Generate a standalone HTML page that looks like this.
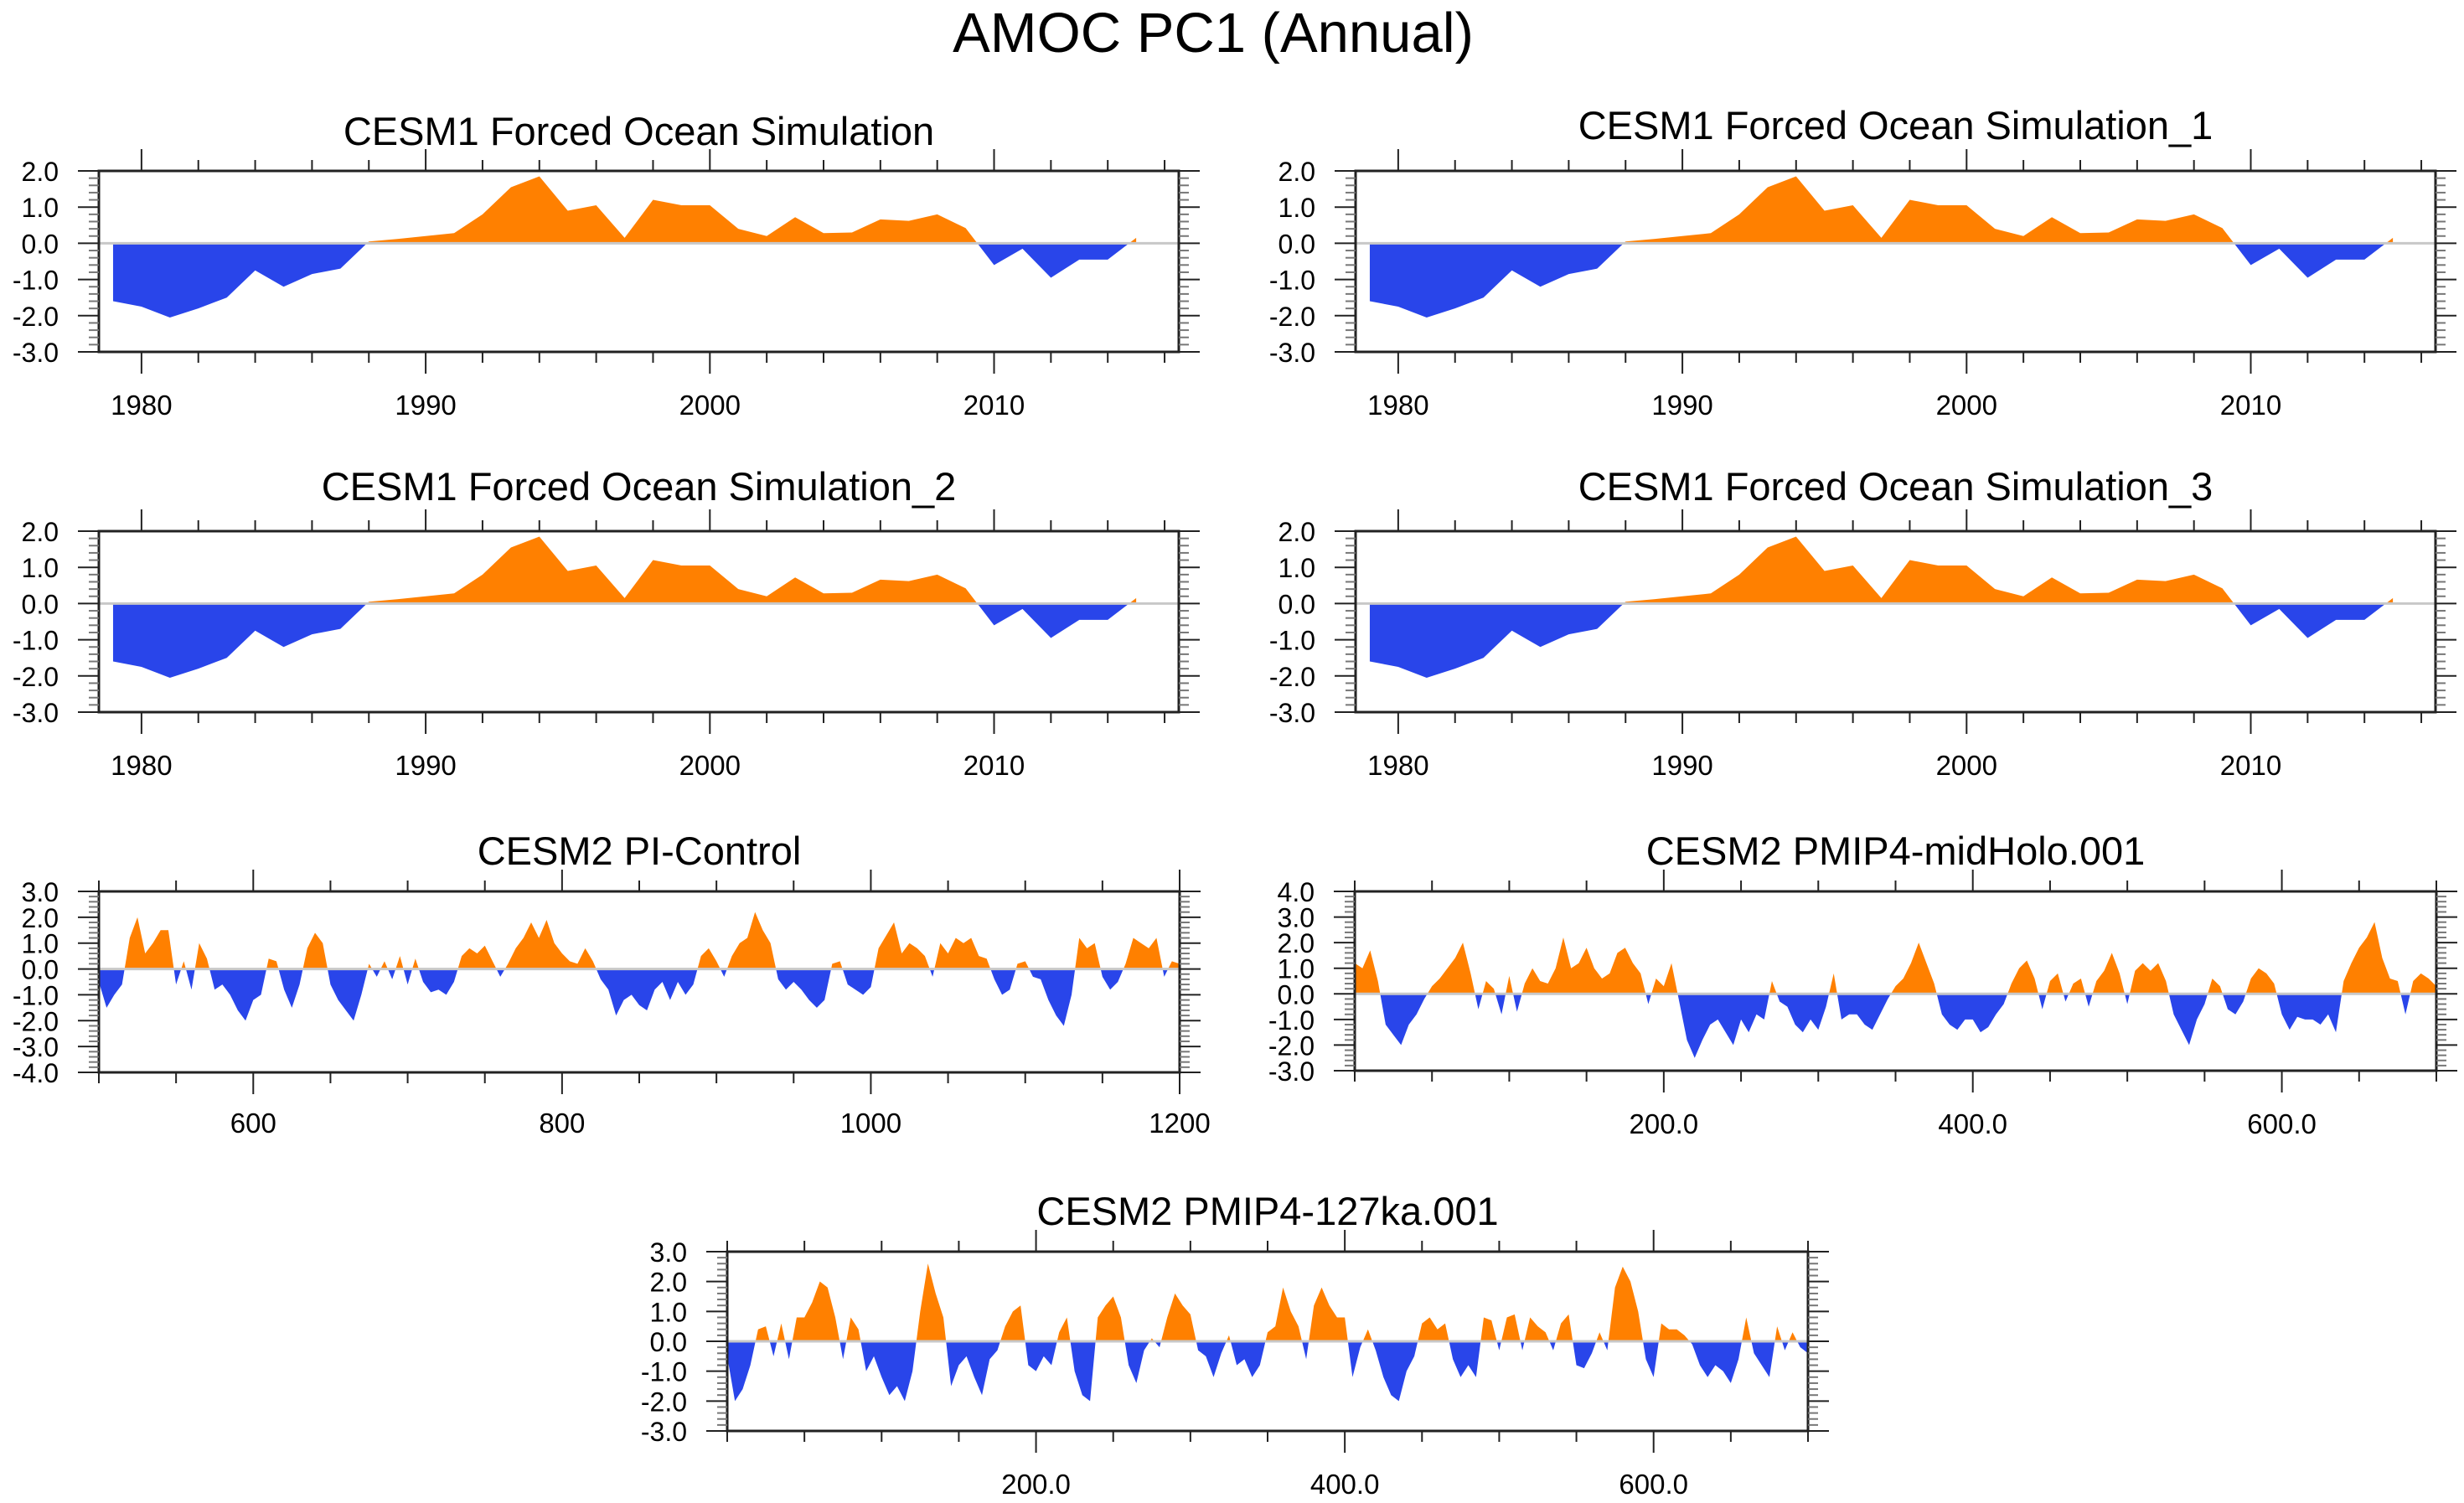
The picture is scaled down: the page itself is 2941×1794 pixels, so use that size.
<!DOCTYPE html>
<html><head><meta charset="utf-8"><style>
html,body{margin:0;padding:0;background:#fff;}
svg{display:block;}
text{font-family:"Liberation Sans",sans-serif;fill:#000;}
</style></head><body>
<svg id="chart" width="2941" height="1794" viewBox="0 0 2941 1794" xmlns="http://www.w3.org/2000/svg">
<rect x="0" y="0" width="2941" height="1794" fill="#fff"/>
<text x="1448" y="62" font-size="67" text-anchor="middle">AMOC PC1 (Annual)</text>
</svg>
<script>
// CESM1 forced ocean simulation (annual 1979-2015)
const cesm1Years = [1979,1980,1981,1982,1983,1984,1985,1986,1987,1988,1989,1990,1991,1992,1993,1994,1995,1996,1997,1998,1999,2000,2001,2002,2003,2004,2005,2006,2007,2008,2009,2010,2011,2012,2013,2014,2015];
const cesm1Values = [-1.6,-1.75,-2.05,-1.8,-1.5,-0.75,-1.2,-0.85,-0.7,0.05,0.12,0.2,0.28,0.8,1.55,1.85,0.9,1.05,0.15,1.2,1.05,1.05,0.4,0.2,0.72,0.28,0.3,0.66,0.62,0.8,0.42,-0.6,-0.15,-0.95,-0.45,-0.45,0.15];
// CESM2 PI-Control (5-yr samples, 500-1200)
const piStart = 500, piStep = 5;
const piValues = [-0.5,-1.5,-1.0,-0.6,1.2,2.0,0.6,1.0,1.5,1.5,-0.6,0.3,-0.8,1.0,0.4,-0.8,-0.6,-1.0,-1.6,-2.0,-1.2,-1.0,0.4,0.3,-0.8,-1.5,-0.6,0.8,1.4,1.0,-0.6,-1.2,-1.6,-2.0,-1.0,0.2,-0.3,0.3,-0.4,0.5,-0.6,0.4,-0.5,-0.9,-0.8,-1.0,-0.5,0.5,0.8,0.6,0.9,0.3,-0.3,0.2,0.8,1.2,1.8,1.2,1.9,1.0,0.6,0.3,0.2,0.8,0.3,-0.4,-0.8,-1.8,-1.2,-1.0,-1.4,-1.6,-0.8,-0.5,-1.2,-0.5,-1.0,-0.6,0.5,0.8,0.3,-0.3,0.5,1.0,1.2,2.2,1.5,1.0,-0.4,-0.8,-0.5,-0.8,-1.2,-1.5,-1.2,0.2,0.3,-0.6,-0.8,-1.0,-0.7,0.8,1.3,1.8,0.6,1.0,0.8,0.5,-0.3,1.0,0.6,1.2,1.0,1.2,0.5,0.4,-0.4,-1.0,-0.8,0.2,0.3,-0.3,-0.4,-1.2,-1.8,-2.2,-1.0,1.2,0.8,1.0,-0.3,-0.8,-0.5,0.2,1.2,1.0,0.8,1.2,-0.3,0.3,0.2];
// CESM2 PMIP4-midHolo.001 (5-yr samples, 0-700)
const mhStart = 0, mhStep = 5;
const mhValues = [1.2,1.0,1.7,0.5,-1.2,-1.6,-2.0,-1.2,-0.8,-0.2,0.3,0.6,1.0,1.4,2.0,0.8,-0.6,0.5,0.2,-0.8,0.7,-0.7,0.4,1.0,0.5,0.4,1.0,2.2,1.0,1.2,1.8,1.0,0.6,0.8,1.6,1.8,1.2,0.8,-0.4,0.6,0.3,1.2,-0.3,-1.8,-2.5,-1.8,-1.2,-1.0,-1.5,-2.0,-1.0,-1.5,-0.8,-1.0,0.5,-0.3,-0.5,-1.2,-1.5,-1.0,-1.4,-0.5,0.8,-1.0,-0.8,-0.8,-1.2,-1.4,-0.8,-0.2,0.3,0.6,1.2,2.0,1.2,0.4,-0.8,-1.2,-1.4,-1.0,-1.0,-1.5,-1.3,-0.8,-0.4,0.4,1.0,1.3,0.6,-0.6,0.5,0.8,-0.3,0.4,0.6,-0.5,0.5,0.9,1.6,0.8,-0.4,0.9,1.2,0.9,1.2,0.5,-0.8,-1.4,-2.0,-1.0,-0.4,0.6,0.3,-0.6,-0.8,-0.3,0.6,1.0,0.8,0.4,-0.8,-1.4,-0.9,-1.0,-1.0,-1.2,-0.8,-1.5,0.5,1.2,1.8,2.2,2.8,1.4,0.6,0.5,-0.8,0.5,0.8,0.6,0.3];
// CESM2 PMIP4-127ka.001 (5-yr samples, 0-700)
const kaStart = 0, kaStep = 5;
const kaValues = [-0.5,-2.0,-1.6,-0.8,0.4,0.5,-0.5,0.6,-0.6,0.8,0.8,1.3,2.0,1.8,0.8,-0.6,0.8,0.4,-1.0,-0.5,-1.2,-1.8,-1.5,-2.0,-1.0,1.0,2.6,1.6,0.8,-1.5,-0.8,-0.5,-1.2,-1.8,-0.6,-0.3,0.5,1.0,1.2,-0.8,-1.0,-0.5,-0.8,0.3,0.8,-1.0,-1.8,-2.0,0.8,1.2,1.5,0.8,-0.8,-1.4,-0.3,0.1,-0.2,0.8,1.6,1.2,0.9,-0.3,-0.5,-1.2,-0.4,0.2,-0.8,-0.6,-1.2,-0.8,0.3,0.5,1.8,1.0,0.5,-0.6,1.2,1.8,1.2,0.8,0.8,-1.2,-0.2,0.4,-0.3,-1.2,-1.8,-2.0,-1.0,-0.5,0.6,0.8,0.4,0.6,-0.6,-1.2,-0.8,-1.2,0.8,0.7,-0.3,0.8,0.9,-0.3,0.8,0.5,0.3,-0.3,0.6,0.9,-0.8,-0.9,-0.4,0.3,-0.3,1.8,2.5,2.0,1.0,-0.6,-1.2,0.6,0.4,0.4,0.2,-0.1,-0.8,-1.2,-0.8,-1.0,-1.4,-0.6,0.8,-0.4,-0.8,-1.2,0.5,-0.3,0.3,-0.2,-0.4];

const cesmYTicks = [2,1,0,-1,-2,-3];
const cesmXTicks = [1980,1990,2000,2010];
const piYTicks = [3,2,1,0,-1,-2,-3,-4];
const piXTicks = [600,800,1000,1200];
const mhYTicks = [4,3,2,1,0,-1,-2,-3];
const longXTicks = [200,400,600];

const NS = 'http://www.w3.org/2000/svg';
const svg = document.getElementById('chart');
function el(tag, attrs, parent){
  const e = document.createElementNS(NS, tag);
  for (const k in attrs) e.setAttribute(k, attrs[k]);
  (parent||svg).appendChild(e);
  return e;
}
let clipId = 0;
function panel(cfg){
  const g = el('g', {});
  
  
  const sx = v => cfg.x0 + (v - cfg.xmin) / (cfg.xmax - cfg.xmin) * (cfg.x1 - cfg.x0);
  const sy = v => cfg.y0 + (cfg.ymax - v) / (cfg.ymax - cfg.ymin) * (cfg.y1 - cfg.y0);
  const zy = sy(0);
  let pts = sx(cfg.xs[0]) + ',' + zy + ' ';
  for (let i = 0; i < cfg.vals.length; i++) pts += sx(cfg.xs[i]) + ',' + sy(cfg.vals[i]) + ' ';
  pts += sx(cfg.xs[cfg.xs.length-1]) + ',' + zy;
  const defs = el('defs', {}, g);
  const idA = 'ca' + (clipId++), idB = 'cb' + (clipId++);
  const cA = el('clipPath', {id: idA}, defs);
  el('rect', {x: cfg.x0, y: cfg.y0, width: cfg.x1 - cfg.x0, height: zy - cfg.y0}, cA);
  const cB = el('clipPath', {id: idB}, defs);
  el('rect', {x: cfg.x0, y: zy, width: cfg.x1 - cfg.x0, height: cfg.y1 - zy}, cB);
  const pos = el('polygon', {points: pts, fill: '#ff8000', 'clip-path': 'url(#' + idA + ')'}, g);
  
  
  const neg = el('polygon', {points: pts, fill: '#2945ea', 'clip-path': 'url(#' + idB + ')'}, g);
  
  
  const zl = el('line', {x1: cfg.x0, x2: cfg.x1, y1: zy, y2: zy, stroke: '#c8c8c8', 'stroke-width': 3}, g);
  
  
  const fr = el('rect', {x: cfg.x0, y: cfg.y0, width: cfg.x1 - cfg.x0, height: cfg.y1 - cfg.y0, fill: 'none', stroke: '#222', 'stroke-width': 3}, g);
  
  
  for (let v = cfg.minorStart; v <= cfg.xmax + 1e-6; v += cfg.minorStep) {
    if (v < cfg.xmin) continue;
    const x = sx(v);
    const major = cfg.xticks.some(t => Math.abs(t - v) < 1e-6);
    const L = major ? 26 : 13;
    el('line', {x1: x, x2: x, y1: cfg.y0, y2: cfg.y0 - L, stroke: '#222', 'stroke-width': 2}, g);
    el('line', {x1: x, x2: x, y1: cfg.y1, y2: cfg.y1 + L, stroke: '#222', 'stroke-width': 2}, g);
  }
  cfg.xticks.forEach((t, i) => {
    const tx = el('text', {x: sx(t), y: cfg.y1 + cfg.xlabDy, 'font-size': 33, 'text-anchor': 'middle'}, g);
    
    
    tx.textContent = cfg.xlabels[i];
  });
  for (let v = cfg.ymin; v <= cfg.ymax + 1e-6; v += 0.2) {
    const y = sy(v);
    const major = Math.abs(v - Math.round(v)) < 1e-6;
    const L = major ? 25 : 12;
    el('line', {x1: cfg.x0, x2: cfg.x0 - L, y1: y, y2: y, stroke: major ? '#222' : '#777', 'stroke-width': 2}, g);
    el('line', {x1: cfg.x1, x2: cfg.x1 + L, y1: y, y2: y, stroke: major ? '#222' : '#777', 'stroke-width': 2}, g);
  }
  cfg.yticks.forEach(t => {
    const ty = el('text', {x: cfg.x0 - 48, y: sy(t) + 12, 'font-size': 32, 'text-anchor': 'end'}, g);
    
    
    ty.textContent = t.toFixed(1);
  });
  const tt = el('text', {x: (cfg.x0 + cfg.x1) / 2, y: cfg.titleY, 'font-size': 47, 'text-anchor': 'middle'}, g);
  
  
  tt.textContent = cfg.title;
}
const seq = (s, st, n) => Array.from({length: n}, (_, i) => s + i * st);
const cesmBase = {xs: cesm1Years, vals: cesm1Values, xmin: 1978.5, xmax: 2016.5, ymin: -3, ymax: 2,
  yticks: cesmYTicks, xticks: cesmXTicks, xlabels: cesmXTicks.map(String), minorStart: 1978, minorStep: 2, xlabDy: 75};
panel(Object.assign({}, cesmBase, {name: 'panel-cesm1', title: 'CESM1 Forced Ocean Simulation', x0: 118, x1: 1407, y0: 204, y1: 420, titleY: 173}));
panel(Object.assign({}, cesmBase, {name: 'panel-cesm1-1', title: 'CESM1 Forced Ocean Simulation_1', x0: 1618, x1: 2907, y0: 204, y1: 420, titleY: 166}));
panel(Object.assign({}, cesmBase, {name: 'panel-cesm1-2', title: 'CESM1 Forced Ocean Simulation_2', x0: 118, x1: 1407, y0: 634, y1: 850, titleY: 597}));
panel(Object.assign({}, cesmBase, {name: 'panel-cesm1-3', title: 'CESM1 Forced Ocean Simulation_3', x0: 1618, x1: 2907, y0: 634, y1: 850, titleY: 597}));
panel({name: 'panel-pi-control', title: 'CESM2 PI-Control', xs: seq(piStart, piStep, piValues.length), vals: piValues,
  x0: 118, x1: 1408, y0: 1064, y1: 1280, xmin: 500, xmax: 1200, ymin: -4, ymax: 3, yticks: piYTicks,
  xticks: piXTicks, xlabels: piXTicks.map(String), minorStart: 500, minorStep: 50, xlabDy: 72, titleY: 1032});
panel({name: 'panel-midholo', title: 'CESM2 PMIP4-midHolo.001', xs: seq(mhStart, mhStep, mhValues.length), vals: mhValues,
  x0: 1617, x1: 2908, y0: 1064, y1: 1278, xmin: 0, xmax: 700, ymin: -3, ymax: 4, yticks: mhYTicks,
  xticks: longXTicks, xlabels: longXTicks.map(v => v.toFixed(1)), minorStart: 0, minorStep: 50, xlabDy: 75, titleY: 1032});
panel({name: 'panel-127ka', title: 'CESM2 PMIP4-127ka.001', xs: seq(kaStart, kaStep, kaValues.length), vals: kaValues,
  x0: 868, x1: 2158, y0: 1494, y1: 1708, xmin: 0, xmax: 700, ymin: -3, ymax: 3, yticks: [3,2,1,0,-1,-2,-3],
  xticks: longXTicks, xlabels: longXTicks.map(v => v.toFixed(1)), minorStart: 0, minorStep: 50, xlabDy: 75, titleY: 1462});
</script>
</body></html>
